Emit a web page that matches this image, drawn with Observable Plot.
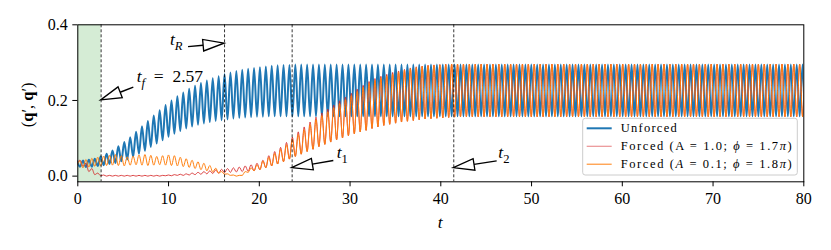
<!DOCTYPE html>
<html><head><meta charset="utf-8">
<script src="https://cdn.jsdelivr.net/npm/d3@7"></script>
<script src="https://cdn.jsdelivr.net/npm/@observablehq/plot@0.6"></script>
<style>
body{margin:0;background:#fff;}
svg{display:block;}
#chart svg text, #chart svg tspan { font-family: 'Liberation Serif', serif !important; }
#chart svg g[aria-label*="axis"] text { font-size: 16px !important; fill: black; }
</style>
</head><body><div id="chart"></div>
<script>
// ---- data ----
const period = 0.65;      // oscillation period (time units)
const firstPeak = -0.08;  // time of the first unforced peak
const xTicks = [0, 10, 20, 30, 40, 50, 60, 70, 80];
const yTicks = [0.0, 0.2, 0.4];
const markers = [2.57, 16.17, 23.62, 41.43]; // t_f, t_R, t_1, t_2
const tf = 2.57;

// Unforced: peak (at firstPeak + k*period) and trough (half a period later), per cycle
const bluePeak = [
0.040,0.041,0.043,0.046,0.052,0.059,0.068,0.079,0.090,0.103,
0.117,0.132,0.146,0.160,0.174,0.188,0.200,0.211,0.221,0.231,
0.239,0.246,0.253,0.259,0.264,0.269,0.274,0.278,0.281,0.284,
0.286,0.288,0.290,0.292,0.293,0.294,0.294,0.295,
0.295,0.295,0.295,0.295,0.295,0.295,0.295,0.295,0.295,0.295,
0.295,0.295,0.295,0.295,0.295,0.295,0.295,0.295,0.295,0.295,
0.295,0.295,0.295,0.295,0.295,0.295,0.295,0.295,0.295,0.295,
0.295,0.295,0.295,0.295,0.295,0.295,0.295,0.295,0.295,0.295,
0.295,0.295,0.295,0.295,0.295,0.295,0.295,0.295,0.295,0.295,
0.295,0.295,0.295,0.295,0.295,0.295,0.295,0.295,0.295,0.295,
0.295,0.295,0.295,0.295,0.295,0.295,0.295,0.295,0.295,0.295,
0.295,0.295,0.295,0.295,0.295,0.295,0.295,0.295,0.295,0.295,
0.295,0.295,0.295,0.295,0.295,0.295,0.295,0.295,0.295,0.295];
const blueTrough = [
0.025,0.024,0.025,0.027,0.029,0.032,0.035,0.039,0.044,0.051,
0.059,0.067,0.077,0.086,0.095,0.104,0.112,0.119,0.126,0.131,
0.136,0.139,0.143,0.146,0.148,0.150,0.152,0.154,0.155,0.156,
0.157,0.157,
0.158,0.158,0.158,0.158,0.158,0.158,0.158,0.158,0.158,0.158,
0.158,0.158,0.158,0.158,0.158,0.158,0.158,0.158,0.158,0.158,
0.158,0.158,0.158,0.158,0.158,0.158,0.158,0.158,0.158,0.158,
0.158,0.158,0.158,0.158,0.158,0.158,0.158,0.158,0.158,0.158,
0.158,0.158,0.158,0.158,0.158,0.158,0.158,0.158,0.158,0.158,
0.158,0.158,0.158,0.158,0.158,0.158,0.158,0.158,0.158,0.158,
0.158,0.158,0.158,0.158,0.158,0.158,0.158,0.158,0.158,0.158,
0.158,0.158,0.158,0.158,0.158,0.158,0.158,0.158,0.158,0.158,
0.158,0.158,0.158,0.158,0.158,0.158,0.158,0.158,0.158,0.158,
0.158,0.158,0.158,0.158,0.158,0.158,0.158,0.158,0.158,0.158];

// Forced (A = 0.1): trough (at firstPeak + k*period) and peak (half a period later)
const orangeTrough = [
0.030,0.022,0.024,0.026,0.027,0.028,0.029,0.028,0.027,0.029,
0.030,0.029,0.028,0.029,0.030,0.029,0.028,0.027,0.025,0.023,
0.020,0.017,0.014,0.011,0.008,0.005,0.002,0.000,0.002,0.010,
0.014,0.017,0.022,0.027,0.032,0.038,0.045,0.052,0.058,0.065,
0.071,0.078,0.084,0.090,0.096,0.101,0.107,0.112,0.117,0.121,
0.126,0.130,0.134,0.137,0.140,0.143,0.145,0.147,0.149,0.151,
0.152,0.153,0.154,0.155,0.156,0.157,
0.157,0.157,0.157,0.157,0.157,0.157,0.157,0.157,0.157,0.157,
0.157,0.157,0.157,0.157,0.157,0.157,0.157,0.157,0.157,0.157,
0.157,0.157,0.157,0.157,0.157,0.157,0.157,0.157,0.157,0.157,
0.157,0.157,0.157,0.157,0.157,0.157,0.157,0.157,0.157,0.157,
0.157,0.157,0.157,0.157,0.157,0.157,0.157,0.157,0.157,0.157,
0.157,0.157,0.157,0.157,0.157,0.157,0.157,0.157,0.157,0.157,
0.157,0.157,0.157,0.157,0.157,0.157,0.157,0.157,0.157,0.157];
const orangePeak = [
0.040,0.044,0.047,0.050,0.053,0.055,0.057,0.054,0.051,0.053,
0.056,0.057,0.055,0.052,0.054,0.056,0.054,0.050,0.046,0.042,
0.038,0.034,0.028,0.021,0.012,0.006,0.003,0.002,0.012,0.022,
0.030,0.040,0.050,0.060,0.071,0.083,0.097,0.110,0.123,0.136,
0.149,0.160,0.170,0.181,0.192,0.202,0.213,0.224,0.235,0.245,
0.253,0.260,0.265,0.270,0.275,0.280,0.284,0.287,0.290,0.292,
0.293,0.294,0.295,0.296,
0.296,0.296,0.296,0.296,0.296,0.296,0.296,0.296,0.296,0.296,
0.296,0.296,0.296,0.296,0.296,0.296,0.296,0.296,0.296,0.296,
0.296,0.296,0.296,0.296,0.296,0.296,0.296,0.296,0.296,0.296,
0.296,0.296,0.296,0.296,0.296,0.296,0.296,0.296,0.296,0.296,
0.296,0.296,0.296,0.296,0.296,0.296,0.296,0.296,0.296,0.296,
0.296,0.296,0.296,0.296,0.296,0.296,0.296,0.296,0.296,0.296,
0.296,0.296,0.296,0.296,0.296,0.296,0.296,0.296,0.296,0.296];

// Forced (A = 1.0): trough and peak per cycle, same timing as A = 0.1
const redTrough = [
0.036,0.026,0.012,0.004,0.001,0.000,0.000,0.000,0.000,0.000,
0.000,0.000,0.000,0.000,0.000,0.001,0.001,0.002,0.002,0.003,
0.004,0.005,0.006,0.007,0.008,0.009,0.010,0.011,0.012,0.013,
0.014,0.017,0.022,0.027,0.032,0.038,0.045,0.052,0.058,0.065,
0.071,0.078,0.084,0.090,0.096,0.101,0.107,0.112,0.117,0.121,
0.126,0.130,0.134,0.137,0.140,0.143,0.145,0.147,0.149,0.151,
0.152,0.153,0.154,0.155,0.156,0.157,
0.157,0.157,0.157,0.157,0.157,0.157,0.157,0.157,0.157,0.157,
0.157,0.157,0.157,0.157,0.157,0.157,0.157,0.157,0.157,0.157,
0.157,0.157,0.157,0.157,0.157,0.157,0.157,0.157,0.157,0.157,
0.157,0.157,0.157,0.157,0.157,0.157,0.157,0.157,0.157,0.157,
0.157,0.157,0.157,0.157,0.157,0.157,0.157,0.157,0.157,0.157,
0.157,0.157,0.157,0.157,0.157,0.157,0.157,0.157,0.157,0.157,
0.157,0.157,0.157,0.157,0.157,0.157,0.157,0.157,0.157,0.157];
const redPeak = [
0.042,0.034,0.020,0.008,0.003,0.002,0.002,0.002,0.002,0.002,
0.002,0.002,0.002,0.002,0.002,0.003,0.004,0.005,0.006,0.008,
0.010,0.012,0.014,0.016,0.018,0.020,0.022,0.024,0.027,0.030,
0.034,0.042,0.054,0.065,0.076,0.089,0.103,0.117,0.130,0.143,
0.156,0.167,0.177,0.188,0.199,0.209,0.219,0.230,0.240,0.250,
0.258,0.264,0.269,0.274,0.278,0.282,0.286,0.289,0.291,0.293,
0.294,0.295,0.296,
0.296,0.296,0.296,0.296,0.296,0.296,0.296,0.296,0.296,0.296,
0.296,0.296,0.296,0.296,0.296,0.296,0.296,0.296,0.296,0.296,
0.296,0.296,0.296,0.296,0.296,0.296,0.296,0.296,0.296,0.296,
0.296,0.296,0.296,0.296,0.296,0.296,0.296,0.296,0.296,0.296,
0.296,0.296,0.296,0.296,0.296,0.296,0.296,0.296,0.296,0.296,
0.296,0.296,0.296,0.296,0.296,0.296,0.296,0.296,0.296,0.296,
0.296,0.296,0.296,0.296,0.296,0.296,0.296,0.296,0.296,0.296];

// annotations: arrow tip, arrow tail and text anchor, in data units
const annotations = [
  {parts: [["t","i"], ["f","is"], ["\u2002=\u20022.57"]], tip: [2.57, 0.200], tail: [6.17, 0.234], text: [6.55, 0.263]},
  {parts: [["t","i"], ["R","is"]],               tip: [16.17, 0.350], tail: [12.20, 0.341], text: [10.21, 0.360]},
  {parts: [["t","i"], ["1","s"]],                tip: [23.62, 0.021], tail: [28.21, 0.040], text: [28.58, 0.063]},
  {parts: [["t","i"], ["2","s"]],                tip: [41.43, 0.021], tail: [46.21, 0.039], text: [46.39, 0.063]}
];
const legendItems = [
  {parts: [["Unforced"]], color: "#1f77b4", width: 2, opacity: 1, len: 56},
  {parts: [["Forced (A = 1.0; "], ["ϕ","i"], [" = 1.7"], ["π","i"], [")"]], color: "#d62728", width: 1, opacity: 0.6, len: 171},
  {parts: [["Forced ("], ["A","i"], [" = 0.1; "], ["ϕ","i"], [" = 1.8"], ["π","i"], [")"]], color: "#ff7f0e", width: 1, opacity: 1, len: 171}
];

// ---- build ----
function series(first, second) {
  const out = [];
  const n = Math.min(first.length, second.length);
  for (let k = 0; k < n; k++) {
    out.push({t: firstPeak + k * period, v: first[k]});
    out.push({t: firstPeak + k * period + period / 2, v: second[k]});
  }
  return out;
}
const blue = series(bluePeak, blueTrough);
const orange = series(orangeTrough, orangePeak);
const red = series(redTrough, redPeak);

const FONT = "Liberation Serif";
const yMin = -0.015, yMax = 0.4;

const plot = Plot.plot({
  width: 831, height: 250,
  marginLeft: 77.3, marginRight: 27.7, marginTop: 24.3, marginBottom: 68.7,
  style: {fontFamily: FONT, fontSize: "16px", color: "black", background: "white"},
  x: {domain: [0, 80], ticks: xTicks, tickFormat: d => String(d), label: null, tickSize: 5, tickPadding: 6},
  y: {domain: [yMin, yMax], ticks: yTicks, tickFormat: d3.format(".1f"), label: null, tickSize: 5, tickPadding: 5},
  marks: [
    Plot.rect([{a: 0, b: tf}], {x1: "a", x2: "b", y1: () => yMin, y2: () => yMax, fill: "#2ca02c", fillOpacity: 0.2}),
    Plot.line(blue, {x: "t", y: "v", stroke: "#1f77b4", strokeWidth: 2, curve: "monotone-x", clip: true}),
    Plot.line(red, {x: "t", y: "v", stroke: "#d62728", strokeWidth: 1, strokeOpacity: 0.85, curve: "monotone-x", clip: true}),
    Plot.line(orange, {x: "t", y: "v", stroke: "#ff7f0e", strokeWidth: 1, curve: "monotone-x", clip: true}),
    Plot.ruleX(markers, {stroke: "black", strokeWidth: 0.8, strokeDasharray: "3,2"}),
    Plot.frame({stroke: "black", strokeWidth: 1})
  ]
});
document.getElementById("chart").append(plot);

const svg = d3.select(plot);
svg.attr("font-family", FONT).attr("font-size", 16);
svg.selectAll("g").each(function () {
  const s = d3.select(this);
  if (s.attr("font-family")) s.attr("font-family", FONT);
  if (s.attr("font-size")) s.attr("font-size", 16);
});

const X = plot.scale("x"), Y = plot.scale("y");
const sx = v => X.apply(v), sy = v => Y.apply(v);
const g = svg.append("g").attr("font-family", FONT).attr("text-anchor", "start").attr("fill", "black");

function rich(text, parts, size) {
  let shift = 0;
  text.attr("font-size", size);
  for (const [s, st = ""] of parts) {
    const ts = text.append("tspan").text(s);
    if (st.includes("i")) ts.attr("font-style", "italic");
    if (st.includes("b")) ts.attr("font-weight", "bold");
    const want = st.includes("s") ? size * 0.3 : 0;
    if (want !== shift) { ts.attr("dy", want - shift); shift = want; }
    if (st.includes("s")) ts.attr("font-size", size * 0.72);
  }
}

// arrows + annotation text
const L = 21, W = 5.8;
for (const a of annotations) {
  const tx = sx(a.tip[0]), ty = sy(a.tip[1]);
  const ax = sx(a.tail[0]), ay = sy(a.tail[1]);
  const dx = ax - tx, dy = ay - ty, len = Math.hypot(dx, dy);
  const ux = dx / len, uy = dy / len, nx = -uy, ny = ux;
  const bx = tx + ux * L, by = ty + uy * L;
  g.append("line").attr("x1", bx).attr("y1", by).attr("x2", ax).attr("y2", ay)
    .attr("stroke", "black").attr("stroke-width", 1.4);
  g.append("path").attr("d", `M${tx},${ty}L${bx + nx * W},${by + ny * W}L${bx - nx * W},${by - ny * W}Z`)
    .attr("fill", "white").attr("stroke", "black").attr("stroke-width", 1.3).attr("stroke-linejoin", "miter");
  const size = 17.5;
  const t = g.append("text").attr("text-anchor", "start").attr("x", sx(a.text[0])).attr("y", sy(a.text[1]) + size * 0.33);
  rich(t, a.parts, size);
}

// axis labels
const fx0 = sx(0), fx1 = sx(80), fy0 = sy(yMin), fy1 = sy(yMax);
const ylab = g.append("text").attr("text-anchor", "middle")
  .attr("transform", `translate(${fx0 - 50},${(fy0 + fy1) / 2 + 2}) rotate(-90)`).attr("dy", "0.33em");
rich(ylab, [["("], ["q","b"], ["′, "], ["q","b"], ["′)"]], 16.5);
const xlab = g.append("text").attr("text-anchor", "middle").attr("x", (fx0 + fx1) / 2).attr("y", fy0 + 47);
rich(xlab, [["t","i"]], 17.5);

// legend
const lw = 214.6, lh = 56.7;
const lx = fx1 - 6 - lw, ly = fy0 - 6.3 - lh;
const lg = g.append("g");
lg.append("rect").attr("x", lx).attr("y", ly).attr("width", lw).attr("height", lh).attr("rx", 2.5)
  .attr("fill", "white").attr("fill-opacity", 0.8).attr("stroke", "#cccccc").attr("stroke-width", 1);
legendItems.forEach((it, i) => {
  const yy = ly + 10 + i * 17.95;
  lg.append("line").attr("x1", lx + 4).attr("x2", lx + 29).attr("y1", yy).attr("y2", yy)
    .attr("stroke", it.color).attr("stroke-width", it.width).attr("stroke-opacity", it.opacity);
  const size = 12.5;
  const t = lg.append("text").attr("text-anchor", "start").attr("x", lx + 38).attr("y", yy + size * 0.33);
  rich(t, it.parts, size);
  const natural = t.node().getComputedTextLength();
  const chars = it.parts.map(p => p[0]).join("").length;
  if (natural > 0 && chars > 1) t.attr("letter-spacing", Math.max(0, (it.len - natural) / (chars - 1)));
});
</script>
</body></html>
